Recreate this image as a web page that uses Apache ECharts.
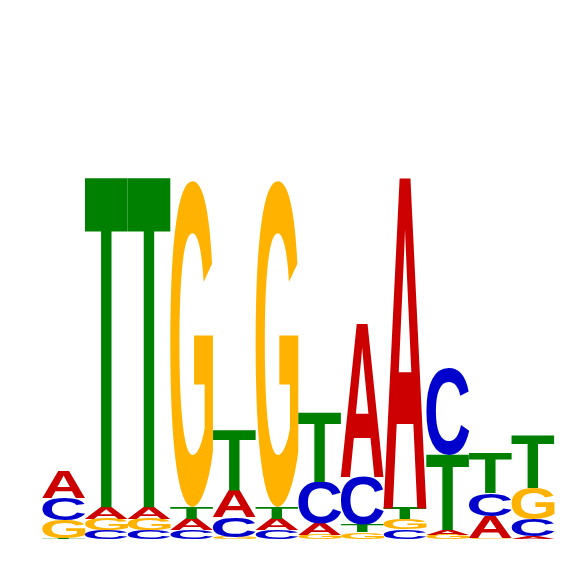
<!DOCTYPE html>
<html>
<head>
<meta charset="utf-8">
<script src="https://cdn.jsdelivr.net/npm/echarts@6/dist/echarts.min.js"></script>
<style>
html, body { margin: 0; padding: 0; background: #fff; }
#logo { width: 566px; height: 566px; }
</style>
</head>
<body>
<div id="logo"></div>
<script>
// positions of the motif
var positions = ['1', '2', '3', '4', '5', '6', '7', '8', '9', '10', '11', '12'];

// letter heights in bits, per position
var bitsA = [0.144, 0.064, 0.064, 0.063, 0.148, 0.063, 0.065, 0.856, 1.833, 0.028, 0.124, 0.016];
var bitsC = [0.122, 0.053, 0.053, 0.053, 0.111, 0.053, 0.231, 0.268, 0.055, 0.482, 0.126, 0.093];
var bitsG = [0.100, 0.061, 0.061, 1.809, 0.014, 1.809, 0.025, 0.039, 0.057, 0.025, 0.007, 0.176];
var bitsT = [0.008, 1.828, 1.828, 0.064, 0.333, 0.064, 0.380, 0.041, 0.060, 0.417, 0.217, 0.290];

var letters = ['A', 'C', 'G', 'T'];
var colors = { A: '#CC0000', C: '#0000CC', G: '#FFB300', T: '#008000' };
var FONT = 'bold 1000px "Liberation Sans", Arial, sans-serif';

// find where zrender really puts the ink of each glyph:
// draw it once in a throwaway chart and scan the pixels
function measureInk() {
    var W = 1200, H = 1600, X0 = 200, Y0 = 800;
    var probe = echarts.init(document.createElement('div'), null,
        { width: W, height: H, devicePixelRatio: 1 });
    var boxes = {};
    letters.forEach(function (l) {
        probe.setOption({
            animation: false,
            graphic: [{
                type: 'text', x: X0, y: Y0,
                style: { text: l, font: FONT, fill: '#000', align: 'left', verticalAlign: 'middle' }
            }]
        }, true);
        var cv = probe.getDom().querySelector('canvas');
        var px = cv.getContext('2d').getImageData(0, 0, cv.width, cv.height).data;
        var minX = W, maxX = -1, minY = H, maxY = -1;
        for (var y = 0; y < cv.height; y++) {
            for (var x = 0; x < cv.width; x++) {
                if (px[(y * cv.width + x) * 4 + 3] > 127) {
                    if (x < minX) minX = x;
                    if (x > maxX) maxX = x;
                    if (y < minY) minY = y;
                    if (y > maxY) maxY = y;
                }
            }
        }
        boxes[l] = { left: minX - X0, top: minY - Y0, w: maxX - minX + 1, h: maxY - minY + 1 };
    });
    probe.dispose();
    return boxes;
}
var ink = measureInk();

// stack each column, smallest letter at the bottom
var stacks = [];
positions.forEach(function (p, i) {
    var col = [[0, bitsA[i]], [1, bitsC[i]], [2, bitsG[i]], [3, bitsT[i]]];
    col.sort(function (a, b) { return a[1] - b[1]; });
    var y0 = 0;
    col.forEach(function (c) {
        stacks.push([i, c[0], y0, y0 + c[1]]);
        y0 += c[1];
    });
});

function renderLetter(params, api) {
    var l = letters[api.value(1)];
    var p0 = api.coord([api.value(0), api.value(2)]);
    var p1 = api.coord([api.value(0), api.value(3)]);
    var bw = api.size([1, 0])[0];
    var h = p0[1] - p1[1];
    var g = ink[l];
    var sx = bw / g.w, sy = h / g.h;
    return {
        type: 'text',
        x: p0[0] - bw / 2 - g.left * sx,
        y: p1[1] - g.top * sy,
        scaleX: sx,
        scaleY: sy,
        style: {
            text: l,
            font: FONT,
            fill: colors[l],
            align: 'left',
            verticalAlign: 'middle'
        }
    };
}

echarts.init(document.getElementById('logo')).setOption({
    animation: false,
    grid: { left: 42.3, right: 11.7, top: 179.5, bottom: 26.5 },
    xAxis: {
        type: 'category',
        data: positions,
        show: false
    },
    yAxis: {
        type: 'value',
        min: 0,
        max: 2,
        show: false
    },
    series: [{
        type: 'custom',
        silent: true,
        renderItem: renderLetter,
        data: stacks
    }]
});
</script>
</body>
</html>
